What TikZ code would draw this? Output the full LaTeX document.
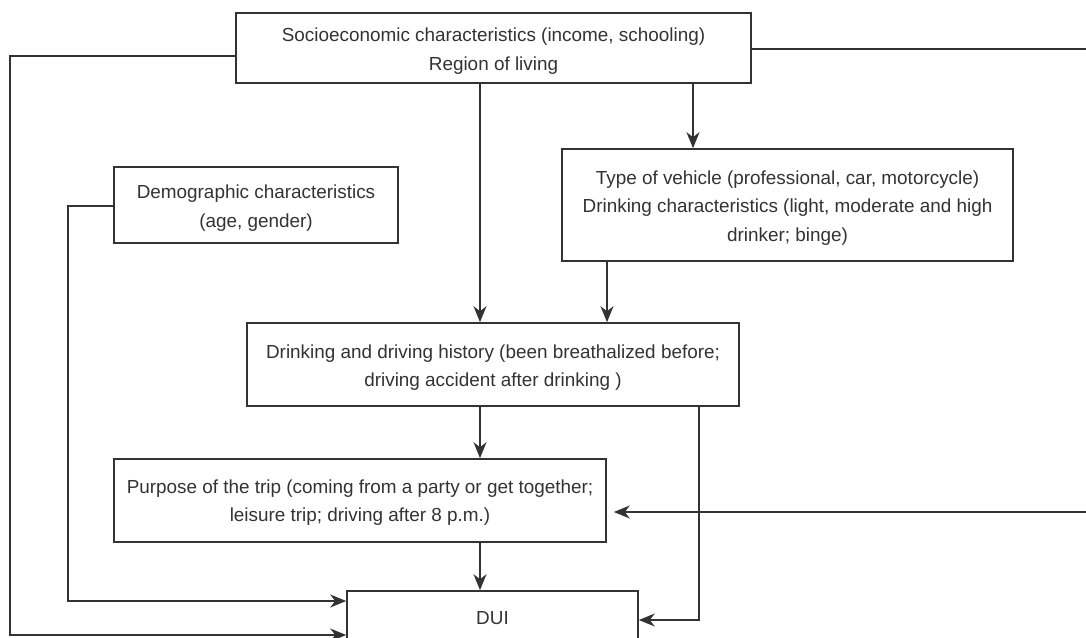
\documentclass[tikz,border=0pt]{standalone}
\usepackage{fontspec}
\setmainfont{Liberation Sans}
\usetikzlibrary{arrows.meta}
\definecolor{ink}{RGB}{51,51,51}
\begin{document}
\begin{tikzpicture}[x=1pt,y=-1pt,
  box/.style={draw=ink, line width=1.6pt, inner sep=0pt},
  txt/.style={inner sep=0pt, align=center, text=ink,
    font=\fontsize{18.9}{28.3}\selectfont},
  conn/.style={draw=ink, line width=1.6pt},
  arr/.style={conn, -{Stealth[length=16pt,width=13pt,inset=5pt]}}]
\useasboundingbox (0,0) rectangle (1086,637);
\clip (0,0) rectangle (1086,637);
\fill[white] (0,0) rectangle (1086,637);

\node[box, minimum width=515pt, minimum height=70pt] (soc) at (493.5,48) {};
\node[box, minimum width=451pt, minimum height=112pt] (veh) at (787.5,205) {};
\node[box, minimum width=284pt, minimum height=76pt] (dem) at (256,205) {};
\node[box, minimum width=492pt, minimum height=83pt] (his) at (493,364.5) {};
\node[box, minimum width=492pt, minimum height=83pt] (pur) at (360,500.5) {};
\node[box, minimum width=291pt, minimum height=54pt] (dui) at (492.5,618) {};

\node[txt] (socT) at ([yshift=-3pt]soc.center)
  {Socioeconomic characteristics (income, schooling)\\Region of living};
\node[txt] (vehT) at ([yshift=-3pt]veh.center)
  {Type of vehicle (professional, car, motorcycle)\\Drinking characteristics (light, moderate and high\\drinker; binge)};
\node[txt] (demT) at ([yshift=-3pt]dem.center)
  {Demographic characteristics\\(age, gender)};
\node[txt] (hisT) at ([yshift=-3pt]his.center)
  {Drinking and driving history (been breathalized before;\\driving accident after drinking )};
\node[txt] (purT) at ([yshift=-2pt]pur.center)
  {Purpose of the trip (coming from a party or get together;\\leisure trip; driving after 8 p.m.)};
\node[txt] (duiT) at (dui.center) {DUI};

% helper coordinates
\coordinate (p1) at (10,56);
\coordinate (p2) at (10,635);
\coordinate (q1) at (1095,49);
\coordinate (q2) at (1095,512);
\coordinate (a1) at (480,0);
\coordinate (a2) at (693,0);
\coordinate (a3) at (607,0);
\coordinate (d1) at (68,206);
\coordinate (d2) at (68,601);
\coordinate (h1) at (699,620);

\draw[arr] (soc.west |- p1) -- (p1) -- (p2) -- (dui.west |- p2);
\draw[arr, shorten >=7pt] (soc.east |- q1) -- (q1) -- (q2) -- (pur.east |- q2);
\draw[arr] (soc.south -| a1) -- (his.north -| a1);
\draw[arr] (soc.south -| a2) -- (veh.north -| a2);
\draw[arr] (veh.south -| a3) -- (his.north -| a3);
\draw[arr] (dem.west |- d1) -- (d1) -- (d2) -- (dui.west |- d2);
\draw[arr] (his.south -| a1) -- (pur.north -| a1);
\draw[arr] (his.south -| h1) -- (h1) -- (dui.east |- h1);
\draw[arr] (pur.south -| a1) -- (dui.north -| a1);
\end{tikzpicture}
\end{document}
